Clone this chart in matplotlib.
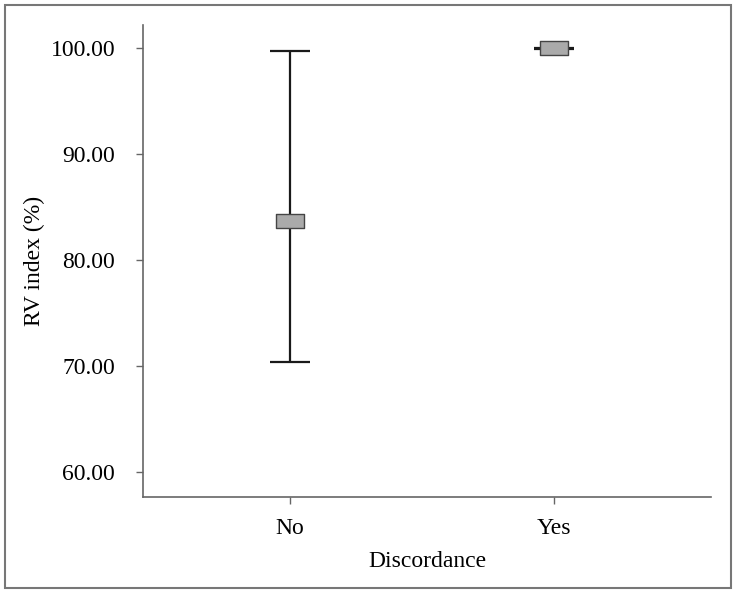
import numpy as np
import matplotlib.pyplot as plt
from matplotlib.path import Path
from matplotlib.patches import Rectangle

plt.rcParams['font.family'] = ['Liberation Serif', 'DejaVu Serif']

groups = ['No', 'Yes']
means = [83.7, 100.0]
lower = [70.35, 99.95]
upper = [99.7, 100.05]

x = np.arange(len(groups))
yerr = [np.array(means) - np.array(lower), np.array(upper) - np.array(means)]

# wide rectangle marker like the SPSS boxes
box = Path([(-1, -0.52), (1, -0.52), (1, 0.52), (-1, 0.52), (-1, -0.52)],
           [Path.MOVETO, Path.LINETO, Path.LINETO, Path.LINETO, Path.CLOSEPOLY])

fig = plt.figure(figsize=(7.36, 5.93), dpi=100)
fig.patches.append(Rectangle((5 / 736, 5 / 593), 726 / 736, 583 / 593,
                             transform=fig.transFigure, fill=False,
                             edgecolor='#777777', linewidth=1.5))
ax = fig.add_axes([143 / 736, 96 / 593, 568 / 736, 472 / 593])

ax.errorbar(x, means, yerr=yerr, fmt='none', ecolor='#1a1a1a',
            elinewidth=1.6, capsize=14.5, capthick=1.6, zorder=2)
ax.plot(x, means, linestyle='none', marker=box, markersize=20,
        markerfacecolor='#aaaaaa', markeredgecolor='#444444',
        markeredgewidth=1.0, zorder=3)

ax.set_xlim(-0.557, 1.595)
ax.set_ylim(57.65, 102.2)
ax.set_xticks(x)
ax.set_xticklabels(groups)
ax.set_yticks([60, 70, 80, 90, 100])
ax.set_yticklabels(['%.2f' % v for v in [60, 70, 80, 90, 100]])
ax.set_xlabel('Discordance', fontsize=17, labelpad=9)
ax.set_ylabel('RV index (%)', fontsize=17, labelpad=4)

for s in ['top', 'right']:
    ax.spines[s].set_visible(False)
for s in ['left', 'bottom']:
    ax.spines[s].set_color('#666666')
    ax.spines[s].set_linewidth(1.2)
ax.tick_params(axis='both', colors='#666666', labelcolor='black',
               labelsize=17, length=5, width=1.0)
ax.tick_params(axis='x', pad=10)
ax.tick_params(axis='y', pad=15)

plt.savefig('out.png', dpi=100)
